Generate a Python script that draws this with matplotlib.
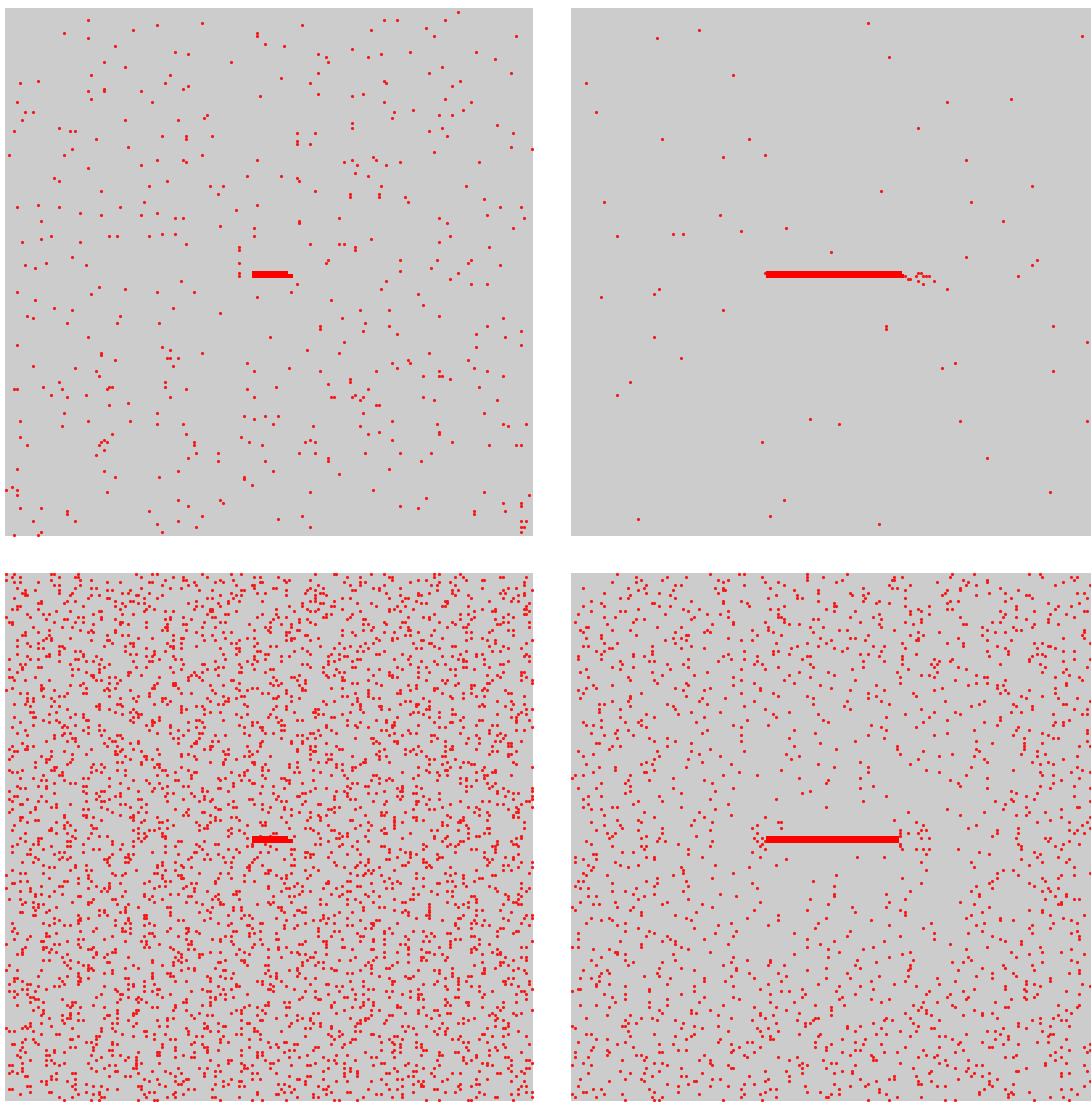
import numpy as np
import matplotlib.pyplot as plt

# every panel is a N x N lattice, row 0 at the top
N = 200
BG = '#cccccc'
DOT = '#f51a1a'

# walkers still free, top-left panel ("col,row")
tl_free = """
31,4 22,9 31,11 48,8 57,6 74,5 95,9 95,10 98,13 41,14 64,16 69,17 37,20 85,20 45,22 12,27 32,25 62,25
5,28 60,28 67,30 69,29 31,31 37,30 37,31 51,31 32,34 96,33 4,35 55,35 7,39 10,39 6,42 45,42 65,42 75,41
76,40 3,46 20,45 24,46 26,46 34,49 59,48 68,48 68,49 78,48 1,55 22,55 25,53 46,52 57,57 67,57 68,58 74,55
95,57 31,60 51,59 18,64 20,65 61,65 54,67 77,67 82,67 91,63 80,70 36,69 12,74 4,75 20,75 52,73 95,74 28,77
36,78 43,75 57,77 51,78 64,79 67,79 87,76 13,80 81,82 94,83 6,88 13,87 17,86 28,88 39,86 42,86 54,86 59,85
64,85 68,89 94,86 88,90 88,91 25,94 88,96 7,97 11,98 15,96 30,97
171,1 112,6 143,4 148,4 166,4 138,8 159,7 162,10 193,10 105,14 131,15 118,17 121,18 122,20 137,18 142,17
153,16 178,16 185,19 118,24 160,24 165,22 191,24 104,26 115,28 143,27 144,28 169,29 172,27 118,32 131,33
135,32 166,34 143,35 176,35 173,38 154,38 147,39 146,41 164,40 169,40 131,43 131,45 160,46 165,45 167,48
186,44 192,47 110,47 117,47 110,50 110,51 115,51 191,52 199,53 162,54 131,57 128,58 139,56 140,57 144,59
149,58 133,59 132,62 137,63 179,58 104,63 110,64 111,65 117,69 142,67 130,70 130,71 141,70 141,71 151,71
152,73 174,67 181,72 187,75 195,75 196,79 182,78 126,79 111,80 111,81 164,79 167,81 168,86 192,83 138,87
115,89 126,89 128,89 132,90 132,91 164,88 183,90 122,95 121,96 149,95 163,95 176,95 175,96 161,98 149,99
187,97
88,100 88,101 66,103 4,107 35,105 32,108 45,106 57,107 71,107 11,110 95,109 18,113 25,114 63,113 81,115
8,116 10,117 43,116 42,119 58,119 23,119 31,124 100,124 4,127 59,128 62,129 74,130 36,130 36,131 41,133
61,132 62,132 65,132 10,135 26,136 63,135 91,134 34,137 35,139 94,137 20,141 14,143 60,141 60,143 39,143
40,143 38,144 3,144 4,144 21,144 68,144 91,144 17,146 23,147 30,146 62,147 94,147 46,149 39,150 22,153
57,153 98,154 5,156 31,156 47,156 57,157 67,157 90,154 94,155 21,158 40,161 68,161 5,162 8,165 89,162
92,164 97,165 37,163 36,164 35,165 38,164 37,167 71,165 71,164 72,168 69,170 80,168 80,171 34,169 98,171
4,174 37,175 41,177 58,177 65,175 90,177 90,178 93,180 2,181 4,182 0,182 4,184 38,183 65,186 69,188 81,186
82,187 5,189 13,189 23,190 23,191 54,190 10,194 26,194 57,195 65,194 74,192 72,196 13,198 12,199 3,199
59,198
110,104 108,107 144,103 142,106 168,102 171,100 176,104 182,104 123,110 156,108 158,112 134,114 145,114
164,116 188,117 127,117 136,119 145,120 119,120 119,121 135,122 148,123 182,120 178,123 195,122 189,124
128,126 114,129 126,130 160,130 178,128 195,127 152,133 153,134 146,134 148,136 175,133 177,136 107,136
119,137 140,137 158,139 164,137 164,139 165,139 168,140 182,137 188,139 130,140 130,141 122,142 102,143
137,144 179,143 132,146 131,147 135,147 134,148 123,147 124,147 140,150 141,150 158,147 162,148 186,148
181,153 135,153 103,154 146,156 163,157 188,157 190,158 197,157 101,157 116,158 134,158 141,160 137,161
164,160 164,161 113,164 115,163 117,164 146,163 169,164 183,165 193,165 195,165 111,168 117,168 136,168
149,168 161,168 157,171 122,170 122,171 101,175 126,176 145,174 115,183 139,182 181,183 159,185 149,188
156,189 188,187 195,187 195,188 198,184 189,190 177,190 177,191 103,193 112,192 115,196 195,194 197,194
195,196 196,196 195,198
"""

# walkers still free, top-right panel, plus the ragged tip of the cluster
tr_free = """
32,11 48,8 112,5 120,18 193,10 61,25 166,34 5,28 142,35 9,39 131,45 34,49 67,49 73,55 57,56 149,57 117,69
174,67 12,73 56,78 151,73 163,80 17,86 38,85 42,85 81,83 64,84 98,92 176,95 174,97 169,101 149,94 33,106
31,108 11,109 57,114 119,120 119,121 182,120 31,124 41,132 140,136 145,134 22,141 17,146 182,137 195,126
147,156 90,155 101,157 72,164 195,156 157,170 181,183 80,186 25,193 75,192 116,195
73,100 125,101 126,101 127,102 128,102 130,101 131,100 132,100 133,101 134,101 135,101 131,103 133,104
137,103 142,106
"""

# walkers still free, bottom-left panel: occupied columns of each row
bl_rows = [
    "0 3 17 18 27 49 55 57 74 85 89 117 124 125 138 143 162 164 172",
    "2 5 20 26 27 51 63 67 76 94 96 103 129 134 145 146 162 170 173 187 188 197",
    "0 17 28 32 60 67 68 81 86 105 107 115 146 156 159 174 180 181",
    "3 5 12 38 43 54 55 71 79 82 96 97 106 128 134 136 153 164 168 196",
    "18 20 28 59 69 72 87 93 94 118 130 134 143 161 163 170 196",
    "4 26 32 34 51 62 66 94 101 102 115 120 139 141 149 180 190 193",
    "7 11 20 38 40 47 73 78 89 90 106 114 117 131 132 141 163 169 171 188 199",
    "6 7 20 25 44 46 54 85 95 98 113 119 120 144 156 160 169 187 189 196",
    "7 8 24 32 35 49 50 59 81 87 89 106 117 121 149 156 157 170 175 194 196",
    "3 31 38 39 52 57 76 78 86 117 127 130 145 151 152 176 188 192",
    "13 23 26 41 47 48 72 84 88 97 115 117 124 150 155 166 167 183 191 194",
    "12 13 22 44 50 52 69 80 84 112 119 120 133 138 157 159 167 198",
    "4 5 29 41 45 54 72 74 81 107 112 123 124 140 148 151 165 166 175 197",
    "2 4 12 43 53 56 71 77 78 102 114 118 127 145 147 154 180 185 196 197",
    "19 24 35 36 52 60 63 77 78 87 109 115 117 134 145 149 177 184 185 198",
    "8 14 16 33 44 48 76 83 84 97 102 121 123 131 162 172 175 190 196 197",
    "0 9 27 29 36 62 67 78 79 95 103 106 120 121 130 152 158 160 177 188 192",
    "15 22 23 36 41 60 62 70 101 111 114 129 135 136 160 172 176 185",
    "1 2 18 26 29 43 44 53 75 81 83 100 111 115 143 150 151 164 169 188 190 198",
    "2 33 43 46 61 67 68 92 104 108 117 135 137 144 170 175 186 187",
    "10 21 25 53 60 61 74 79 98 100 108 139 149 152 167 173 174 198",
    "16 28 32 41 59 61 68 94 99 110 111 127 135 138 152 153 162 184 190 192",
    "7 12 31 33 41 72 82 85 100 106 107 131 143 147 156 174 176 183",
    "6 7 16 38 44 46 63 74 78 106 113 114 127 132 151 153 161 192",
    "15 17 24 50 55 66 67 83 91 94 108 109 118 140 146 148 165 176 180",
    "4 14 17 32 38 39 63 75 79 88 106 108 115 141 146 157 158 174 182 185 199",
    "8 12 40 47 48 61 66 85 87 95 126 136 139 154 160 161 185 197",
    "4 9 20 21 37 45 48 62 63 72 94 100 102 119 130 134 162 169 170 183 188",
    "12 14 22 53 63 66 81 87 88 112 124 128 137 155 157 164 190 195",
    "20 26 28 45 56 60 88 95 96 109 114 133 135 143 174 184 187",
    "4 16 20 29 47 49 56 82 87 98 99 115 123 126 140 141 150 172 178 180 197",
    "8 15 16 29 34 53 55 63 94 104 107 122 128 129 153 165 169 178 196 198",
    "1 9 12 26 27 36 58 64 66 83 94 98 126 133 134 147 152 171 173 181",
    "20 30 33 48 54 55 79 91 95 104 122 124 131 157 162 173 174 190 198",
    "5 7 24 35 39 67 74 75 88 93 112 114 122 153 163 166 181 187 188",
    "6 12 13 37 49 53 62 80 82 89 115 120 131 132 148 156 159 173 174 183",
    "1 6 25 27 35 66 76 79 94 100 101 125 137 141 150 168 170 177",
    "4 30 35 46 47 63 71 74 88 89 98 120 126 128 145 156 160 188 195 196",
    "25 32 33 46 51 70 72 80 111 121 124 139 145 146 170 182 186 195",
    "1 2 11 33 39 41 58 69 73 101 108 109 122 127 146 148 156 187 197",
    "3 7 16 34 36 43 69 74 85 86 102 110 113 127 128 137 159 165 167 184 195 199",
    "29 39 42 57 63 64 88 100 104 113 131 133 140 166 171 182 183 199",
    "13 24 28 56 63 64 77 82 101 103 111 142 152 155 170 176 177",
    "2 13 14 30 38 41 55 56 65 87 93 95 112 123 127 155 162 163 176 181",
    "0 13 18 37 39 47 78 88 91 106 112 113 137 149 153 162 180 182 189",
    "5 8 23 29 30 54 66 70 79 97 99 106 132 137 148 149 165 173 176 190 191",
    "14 20 22 39 50 54 82 89 90 103 108 127 129 137 168 178 181 196",
    "8 10 17 43 48 59 60 76 84 87 101 102 111 133 139 141 158 169 173",
    "8 10 18 49 59 62 77 83 84 108 120 124 133 151 153 160 186 191",
    "3 7 35 42 43 56 61 80 82 90 121 131 134 149 155 156 180 192 196",
    "9 17 20 34 35 44 66 72 74 91 102 106 134 141 142 155 160 179 181 189",
    "23 35 39 48 66 68 75 101 106 117 118 134 142 145 159 160 169 191 197 199",
    "9 10 19 41 47 49 66 77 81 109 116 117 130 135 154 156 164 195",
    "16 26 29 44 50 51 75 87 91 100 118 120 127 153 158 169 170 186 194 197",
    "3 10 11 24 29 48 50 58 89 99 102 117 123 124 148 160 164 173 191 193",
    "14 19 30 31 47 55 58 72 73 82 104 110 112 129 140 144 172 179 180 193 198",
    "5 16 20 48 55 56 69 74 93 95 103 134 144 147 162 168 169 193",
    "10 22 26 35 53 55 62 88 93 104 105 121 129 132 146 147 156 178 184 186",
    "2 21 23 31 62 72 75 90 96 97 121 133 137 146 164 166 173 199",
    "7 29 35 37 54 65 69 97 104 105 118 123 142 144 152 183 193 196",
    "4 22 24 31 57 62 73 74 90 98 101 115 116 125 147 153 155 172 183 187",
    "8 18 21 36 42 43 67 79 83 92 110 112 119 145 150 161 162 178 186 189",
    "18 25 26 39 44 63 65 73 104 114 117 132 138 139 163 175 179 188",
    "15 23 26 40 41 50 72 78 80 97 108 112 140 147 148 161 166 185 187 195",
    "6 37 47 50 65 71 72 96 108 112 121 139 141 148 174 179 190 191",
    "2 8 10 27 38 42 70 77 78 91 96 115 117 125 156 166 169 184 190 191",
    "1 7 8 32 44 48 57 75 77 84 110 115 126 127 143 151 154 168 169 178",
    "3 4 17 22 41 43 51 82 92 95 110 116 117 141 153 157 166 184 186 193",
    "25 30 41 42 58 66 69 83 84 93 115 121 123 140 151 155 183 190 191",
    "2 13 17 45 52 53 66 71 90 92 100 131 141 144 159 165 166 190",
    "1 15 16 25 47 53 55 72 83 87 115 122 123 136 141 160 162 170",
    "11 15 24 42 44 51 77 82 93 94 110 118 121 135 136 145 167 173 175 192",
    "23 33 36 51 57 58 82 94 98 107 125 127 134 160 165 176 177 193",
    "11 18 19 32 37 56 58 66 97 107 110 125 131 132 156 168 172 181 199",
    "1 6 17 18 34 42 45 59 60 69 91 97 99 116 127 131 159 166 167 180 185",
    "2 4 21 32 36 64 71 72 85 90 109 111 119 150 160 163 178 184 185",
    "14 20 21 45 57 61 70 88 90 97 123 128 139 140 156 164 167 181 182 191",
    "5 10 29 31 39 70 80 83 98 104 105 129 141 145 154 172 174 181",
    "13 15 22 48 53 64 65 81 89 92 106 107 116 138 144 146 163 174 178",
    "18 24 26 43 54 58 86 93 94 107 112 131 133 141 172 182 185",
    "4 12 15 29 30 39 61 67 69 86 97 101 129 136 137 150 155 174 176 184",
    "5 7 15 46 56 59 74 80 81 105 117 121 130 148 150 157 183 188 199",
    "1 29 36 37 50 55 74 76 84 115 125 128 143 149 150 174 186 190 199",
    "18 30 34 43 61 63 70 96 101 112 113 129 137 140 154 155 164 186 192 194",
    "3 4 13 35 41 43 60 71 75 103 110 111 124 129 148 150 158 189 199",
    "1 8 34 39 50 51 67 75 78 92 93 102 124 130 132 149 160 164 192 199",
    "2 12 15 30 36 37 61 73 77 86 104 106 113 139 144 155 156 172 180 183 197 198",
    "5 6 19 24 43 45 53 84 94 97 112 118 119 143 155 159 168 186 188 195",
    "11 17 19 36 47 51 79 86 87 100 105 124 126 134 165 175 178 193 199",
    "2 11 29 31 38 64 69 80 81 97 105 108 122 123 132 154 160 162 179 190 194",
    "1 9 40 50 53 68 74 75 99 111 115 124 142 144 151 177 182 193 194",
    "22 29 30 43 48 67 69 77 108 118 121 136 142 143 167 179 183 192",
    "5 6 22 30 33 47 48 57 79 85 87 104 115 119 147 154 155 168 173 192 194",
    "5 11 12 36 48 52 61 79 81 88 114 119 130 131 147 155 158 172 173 182",
    "8 19 23 51 58 59 72 77 96 98 106 137 147 150 165 171 172 196",
    "3 22 24 32 63 73 76 91 97 98 122 134 138 147 165 167 174",
    "17 22 33 34 50 58 61 75 76 85 107 113 115 132 143 147 175 182 183 196",
    "2 16 17 26 48 54 56 73 84 88 116 123 124 137 142 161 163 171",
    "7 19 23 32 50 52 59 85 90 101 102 118 126 129 143 144 153 175 181 183",
    "25 35 38 53 59 60 84 96 100 109 127 129 136 162 167 178 179 195",
    "5 12 13 26 31 50 52 60 91 119 125 126 150 162 166 175 193 195",
    "7 12 23 24 40 48 51 65 66 75 122 133 137 165 172 173 186 191",
    "4 10 12 29 40 44 72 79 80 93 98 117 119 127 158 168 171 186 192 193",
    "2 17 23 24 48 60 64 73 91 93 100 126 131 142 143 159 167 170 184 185 194",
    "9 14 33 35 43 74 84 87 102 108 109 133 145 149 158 176 178 185",
    "2 20 22 29 55 60 71 72 88 96 99 113 114 123 145 151 153 170 181 185",
    "8 9 18 40 46 48 65 76 80 108 115 116 129 134 153 155 163 194",
    "11 21 24 39 45 46 70 82 86 95 113 115 122 148 153 164 165 181 189 192",
    "12 20 23 37 38 47 69 75 77 94 105 109 137 144 145 158 163 182 184 192",
    "6 10 38 45 46 59 64 83 85 93 124 134 137 152 158 159 183 195 199",
    "14 26 30 39 57 59 66 92 97 108 109 125 133 136 150 151 160 182 188 190",
    "16 18 26 57 67 70 85 91 92 116 128 132 141 159 161 168 194 199",
    "2 24 30 32 49 60 64 92 99 100 113 118 137 139 147 178 188 191",
    "5 7 14 40 45 56 57 73 81 84 98 99 108 130 136 138 155 166 170 198",
    "0 31 41 44 59 65 66 90 102 106 115 133 135 142 168 173 184 185",
    "16 27 31 59 66 67 80 85 104 106 114 145 155 158 173 179 180",
    "5 8 22 23 32 54 60 62 79 90 94 122 129 130 143 148 167 169 177",
    "2 3 27 39 43 52 70 72 79 105 110 121 122 138 146 149 163 164 173 195",
    "13 20 21 34 39 58 60 68 99 109 112 127 133 134 158 170 174 183",
    "0 9 31 37 39 56 67 71 99 106 107 120 125 144 146 154 185 195 198",
    "5 9 18 36 38 45 71 76 87 88 104 112 115 129 130 139 161 167 169 186 197",
    "11 13 21 52 62 65 80 86 87 111 123 127 136 154 156 163 189 194",
    "11 16 27 28 44 52 55 69 70 79 101 107 109 126 137 141 169 176 177 190 195",
    "1 5 33 40 41 54 59 78 80 88 119 129 132 147 153 154 178 190 194",
    "7 10 25 31 32 56 68 72 81 99 101 108 134 139 150 151 167 175 178 192 193",
    "6 12 14 31 42 46 74 81 82 95 100 119 121 129 160 170 173 188 194 195",
    "10 12 19 45 50 61 62 78 86 89 103 104 113 135 141 143 160 171 175",
    "11 16 35 37 45 76 86 89 104 110 111 135 147 151 160 178 180 187",
    "5 6 15 37 43 45 62 73 77 105 112 113 126 131 150 152 160 191",
    "10 11 27 35 38 52 53 62 84 90 92 109 120 124 152 159 160 173 178 197 199",
    "18 28 31 46 52 53 77 89 93 102 120 122 129 155 160 171 172 188 196 199",
    "20 27 28 41 46 65 67 75 106 116 119 134 140 141 165 177 181 190",
    "2 14 18 27 45 47 54 80 85 96 97 113 121 124 138 139 148 170 176 178 195",
    "16 22 24 41 52 56 84 91 92 105 110 129 131 139 170 180 183 198",
    "3 34 44 47 62 68 69 93 105 109 118 136 138 145 171 176 187 188",
    "2 28 33 44 45 61 69 72 86 87 96 118 124 126 143 154 158 186 193 194",
    "4 15 19 47 54 55 68 73 92 94 102 133 143 146 161 167 168 192",
    "9 15 16 40 52 56 65 83 85 92 118 123 134 135 151 159 162 176 177 186",
    "3 8 27 29 37 68 78 81 96 102 103 127 139 143 152 170 172 179",
    "13 14 23 45 51 53 70 81 85 113 120 121 134 139 158 160 168 199",
    "0 18 20 27 53 58 69 70 86 94 97 111 112 121 143 149 151 168 179 183",
    "7 14 15 28 33 52 54 62 93 103 106 121 127 128 152 164 168 177 195 197",
    "6 14 17 31 32 41 63 69 71 88 99 103 131 138 139 152 157 176 178 186",
    "6 16 19 34 40 41 65 77 81 90 108 110 117 143 148 159 160 176 184 187",
    "4 6 23 34 38 66 73 74 87 92 111 113 121 152 162 165 180 186 187",
    "21 33 37 46 64 66 73 99 104 115 116 132 140 143 157 158 167 189 195 197",
    "14 16 24 55 65 68 83 89 90 114 126 130 139 157 159 166 192 197",
    "22 27 38 39 55 63 66 80 81 90 112 118 120 137 148 152 180 187 188",
    "1 23 29 31 48 59 63 91 98 99 112 117 136 138 146 177 187 190",
    "24 31 32 45 50 69 71 79 110 120 123 138 144 145 169 181 185 194",
    "0 4 13 31 33 40 66 71 82 83 99 107 110 124 125 134 156 162 164 181 192 196",
    "27 37 40 55 61 62 86 98 102 111 129 131 138 164 169 180 181 197",
    "12 23 27 55 62 63 76 81 100 102 110 141 151 154 169 175 176",
    "3 4 20 28 31 45 46 55 77 83 85 102 113 117 145 152 153 166 171 190 192",
    "3 6 21 27 28 52 64 68 77 95 97 104 130 135 146 147 163 171 174 188 189 198",
    "1 8 9 22 27 46 48 56 87 97 100 115 121 122 146 158 162 171 189 191 198",
    "12 18 20 37 48 52 80 87 88 101 106 125 127 135 166 176 179 194",
    "6 8 15 41 46 57 58 74 82 85 99 100 109 131 137 139 156 167 171 199",
    "1 3 11 42 52 55 70 76 77 101 113 117 126 144 146 153 179 184 195 196",
    "4 8 36 43 44 57 62 81 83 91 122 132 135 150 156 157 181 193 197",
    "3 9 10 34 46 50 59 77 79 86 112 117 128 129 145 153 156 170 171 180",
    "11 12 21 43 49 51 68 79 83 111 118 119 132 137 156 158 166 197",
    "9 14 25 26 42 50 53 67 68 77 99 105 107 124 135 139 167 174 175 188 193",
    "4 23 25 33 64 74 77 92 98 99 123 135 139 148 166 168 175",
    "12 24 28 37 55 57 64 90 95 106 107 123 131 134 148 149 158 180 186 188",
    "10 14 42 49 50 63 68 87 89 97 128 138 141 156 162 163 187 199",
    "14 24 27 42 48 49 73 85 89 98 116 118 125 151 156 167 168 184 192 195",
    "13 21 24 38 39 48 70 76 78 95 106 110 138 145 146 159 164 183 185 193",
    "16 23 24 37 42 61 63 71 102 112 115 130 136 137 161 173 177 186",
    "21 27 29 46 57 61 89 96 97 110 115 134 136 144 175 185 188",
    "9 13 22 40 42 49 75 80 91 92 108 116 119 133 134 143 165 171 173 190",
    "7 9 17 48 58 61 76 82 83 107 119 123 132 150 152 159 185 190",
    "0 6 8 25 36 40 68 75 76 89 94 113 115 123 154 164 167 182 188 189",
    "1 3 10 36 41 52 53 69 77 80 94 95 104 126 132 134 151 162 166 194",
    "13 19 20 44 56 60 69 87 89 96 122 127 138 139 155 163 166 180 181 190",
    "27 34 35 48 53 72 74 82 113 123 126 141 147 148 172 184 188 197",
    "7 10 24 25 34 56 62 64 81 92 96 124 131 132 145 150 169 171 179",
    "6 11 30 32 40 71 81 84 99 105 106 130 142 146 155 173 175 182",
    "2 3 12 34 40 42 59 70 74 102 109 110 123 128 147 149 157 188 198",
    "6 24 26 33 59 64 75 76 92 100 103 117 118 127 149 155 157 174 185 189",
    "5 15 18 33 39 40 64 76 80 89 107 109 116 142 147 158 159 175 183 186",
    "7 18 22 50 57 58 71 76 95 97 105 136 146 149 164 170 171 195",
    "4 15 16 32 40 43 57 58 67 89 95 97 114 125 129 157 164 165 178 183",
    "5 36 46 49 64 70 71 95 107 111 120 138 140 147 173 178 189 190",
    "9 15 17 34 45 49 77 84 85 98 103 122 124 132 163 173 176 191 197 198",
    "6 18 22 31 49 51 58 84 89 100 101 117 125 128 142 143 152 174 180 182 199",
    "1 2 15 20 39 41 49 80 90 93 108 114 115 139 151 155 164 182 184 191",
    "6 32 37 48 49 65 73 76 90 91 100 122 128 130 147 158 162 190 197 198",
    "2 6 34 41 42 55 60 79 81 89 120 130 133 148 154 155 179 191 195",
    "1 4 19 25 26 50 62 66 75 93 95 102 128 133 144 145 161 169 172 186 187 196",
    "7 8 17 39 45 47 64 75 79 107 114 115 128 133 152 154 162 193",
    "17 19 26 52 57 68 69 85 93 96 110 111 120 142 148 150 167 178 182",
    "13 15 23 54 64 67 82 88 89 113 125 129 138 156 158 165 191 196",
    "15 26 30 58 65 66 79 84 103 105 113 144 154 157 172 178 179",
    "8 9 25 33 36 50 51 60 82 88 90 107 118 122 150 157 158 171 176 195 197",
    "1 2 26 38 42 51 69 71 78 104 109 120 121 137 145 148 162 163 172 194",
    "9 16 17 30 35 54 56 64 95 105 108 123 129 130 154 166 170 179 197 199",
    "5 27 33 35 52 63 67 95 102 103 116 121 140 142 150 181 191 194",
    "20 25 36 37 53 61 64 78 79 88 110 116 118 135 146 150 178 185 186 199",
    "22 32 35 50 56 57 81 93 97 106 124 126 133 159 164 175 176 192",
]

# walkers still free, bottom-right panel: occupied columns of each row
br_rows = [
    "17 52 63 65 89 104 144 152 173 177",
    "24 36 43 72 89 95 122 125 143 178 189 191",
    "26 34 55 59 89 102 121 122 148 157 190",
    "15 24 57 73 78 100 138 150 157 186",
    "28 39 41 65 80 120 128 149 153 183 196",
    "4 21 27 54 57 75 110 121 123 147 162",
    "25 38 57 58 84 93 126 142 147 169",
    "12 28 33 55 93 105 112 141 158 164 191 194",
    "22 37 77 85 106 110 140 153 172 173 199",
    "18 21 39 74 85 87 111 126 166 174 195 199",
    "7 45 57 64 93 110 116 143 146 164 199",
    "11 30 31 57 66 99 115 120 142 180 192 199",
    "4 12 33 37 67 80 99 100 126 135 168 184 189",
    "25 42 48 75 78 96 131 142 144 168 183",
    "7 18 20 44 59 99 107 128 132 162 175 194 195",
    "2 35 51 56 78 116 128 135 164 181 187",
    "12 16 46 59 78 79 105 114 147 163 168 190",
    "24 27 45 80 91 93 117 132 172 180",
    "1 23 61 73 80 109 126 132 159 162 180",
    "13 53 61 82 86 116 129 148 149 175 184",
    "5 6 32 41 74 90 95 117 155 167 174",
    "3 15 22 51 68 74 101 104 122 157 168 170 194",
    "4 39 50 52 76 91 131 139 160 164 194",
    "11 24 43 44 70 79 112 128 133 155 193",
    "5 11 38 41 59 94 105 107 131 146 186 194",
    "35 43 64 68 98 111 130 131 157 166 199",
    "12 17 39 77 89 96 125 142 148 175 178 196",
    "4 6 30 45 85 93 114 118 148 161 180 181",
    "14 15 41 50 83 99 104 126 164 176 183",
    "9 12 30 65 76 78 102 117 157 165 186 190",
    "11 23 30 59 76 82 109 112 130 165 176 178",
    "2 23 27 57 70 89 90 116 125 158 174 179",
    "2 11 44 60 65 87 125 137 144 173 190 196",
    "18 29 31 55 70 110 118 139 143 173 186",
    "19 36 42 69 72 90 125 136 138 162 177",
    "15 23 44 78 91 110 137 146 179 195",
    "5 18 37 64 73 106 127 149 187 199",
    "3 30 51 86 97 123 138 178 186",
    "34 46 82 99 132 135 153 188 199",
    "6 21 61 90 124 137 156 157 183 192",
    "22 31 64 80 107 145 164 193",
    "32 43 69 84 124 153 157 187",
    "8 15 44 61 94 115 150 161 163 187",
    "5 9 39 52 71 98 140 161 183",
    "2 42 50 71 105 118 137 164 173",
    "4 26 64 76 112 129 162 165 183",
    "22 43 78 89 115 130 170 178 199",
    "3 22 49 58 91 112 172 184 191",
    "15 21 48 69 104 117 141 156 196",
    "10 12 36 51 91 120 154 167 186 187",
    "22 38 65 103 151 168 174",
    "10 18 39 73 105 132 174 190 195",
    "10 45 56 82 137 145 166 170",
    "28 40 76 93 126 147 182 193 195",
    "18 31 50 77 119 135 162",
    "11 26 66 95 142 162 188 197",
    "4 20 25 47 97 133 156 183 186",
    "5 8 26 61 74 113 161 182 186",
    "11 28 64 117 130 169",
    "17 21 51 84 119 152 168 173 195",
    "7 16 49 92 142 178 195",
    "12 23 64 112 137 167 180 199",
    "17 29 36 82 118 171 182 184",
    "31 39 64 107 153 195",
    "9 10 45 94 159 171 178",
    "15 18 36 84 123 171 192 196",
    "14 52 100 123 153 171",
    "2 32 45 65 133 154 176",
    "8 48 81 124 144 170 179",
    "4 33 56 86 139 152 176 191",
    "31 44 83 131 156 186 199",
    "28 49 109 157 174 180",
    "5 26 30 60 93 128 177 182",
    "10 16 43 99 112 151 191 199",
    "16 31 79 134 167 193",
    "8 27 28 63 112 139 177 189 196",
    "1 4 22 57 70 149 178 182",
    "0 38 86 109 157 192",
    "21 29 50 97 143 185",
    "11 20 53 96 146 182 199",
    "22 114 147 177 190",
    "2 9 38 61 109 157 181 196",
    "22 54 90 166",
    "20 41 87 168 176 197",
    "6 11 33 119 172 190",
    "4 52 77 166 175",
    "25 34 110 160 167 196",
    "6 23 59 164",
    "4 15 17 41 96 172 191 192",
    "7 11 54 142 163 185",
    "27 48 127 156 173 179",
    "12 60 147 168 172",
    "31 50 185 196 198",
    "17 25 46 181 197",
    "7 26 53 176 188 195",
    "12 18 45 153 193",
    "19 34 150 169 196",
    "9 25 52 161 188 191",
    "13 16 34 161 169 190 194",
    "15 28 47 159 197",
    "14 26 33 168 179 181",
    "5 32 35 53 180 188",
    "7 40 169 186 192",
    "15 26 28 52 170 183",
    "27 44 146 170 185",
    "19 23 154 175 197",
    "8 9 44 158 177",
    "1 28 31 49 176 184",
    "4 9 31 81 170 188",
    "1 16 132 151 178 187",
    "6 18 25 54 77 173 197",
    "8 21 41 67 152 190",
    "7 42 134 163 167 197",
    "4 42 61 161 196",
    "5 13 38 100 169 185 190",
    "32 53 125 161 178 184",
    "2 4 28 43 91 159 179",
    "15 32 68 132 158 173",
    "1 31 44 99 153 175",
    "3 6 24 70 159 180 184",
    "15 20 42 128 151 178 181 199",
    "23 31 56 99 119 154 187",
    "6 9 27 62 99 154 183 187",
    "25 44 90 126 179 190 192",
    "3 16 36 71 120 147 185 197",
    "8 10 34 49 97 152 184 185",
    "0 17 23 53 106 119 158 198",
    "1 22 69 89 124 173 178",
    "26 47 107 126 155 178",
    "26 39 78 126 151 181 194",
    "7 14 43 66 96 149 162 186",
    "11 15 45 78 113 162 167 189",
    "5 20 60 93 136 156 182 191",
    "17 55 74 120 153 174",
    "25 46 92 133 173 181",
    "20 29 62 105 155 191",
    "2 31 54 84 137 150 174 189",
    "28 36 61 104 124 159 192",
    "2 37 50 89 137 162 192",
    "18 34 39 99 118 164 170 197",
    "26 39 59 94 143 170",
    "0 2 26 41 89 114 157 177",
    "8 14 44 97 110 149 189 197",
    "16 17 52 101 128 166 178 185",
    "17 20 38 84 125 173 194 198",
    "11 61 97 120 150 168",
    "7 20 39 66 75 108 129 151 189",
    "23 34 60 75 115 144 148 178 191",
    "9 21 57 74 80 107 128 163 174",
    "33 41 62 96 109 128 155 164 197",
    "4 13 46 62 89 127 146 175 192 198",
    "11 14 32 67 78 104 159 167 188 192",
    "10 27 33 60 81 116 127 153 168",
    "3 7 37 50 69 96 105 138 159 181",
    "10 50 58 79 113 126 145 172 181",
    "9 14 36 74 93 122 139 172 175 193",
    "9 20 46 61 101 109 130 164 177 196 197",
    "2 3 29 71 87 114 152 164 171",
    "0 29 46 79 82 100 135 148 172 187",
    "12 20 41 75 88 107 134 143 176 192 197",
    "15 50 61 87 102 142 150 171 175",
    "20 36 63 101 113 120 149 166 172 199",
    "16 29 48 75 84 117 133 138 160 198",
    "3 9 36 57 92 103 129 144 184 192",
    "14 29 69 77 98 132 145 164 165 191",
    "33 45 52 81 98 131 134 152 187 198",
    "34 45 47 71 86 126 134 155 159 189",
    "13 22 55 71 76 98 136 148 155 184",
    "5 26 30 60 73 92 93 119 128 161 177 182",
    "20 32 39 68 85 91 118 121 139 174 185 187",
    "21 24 42 77 88 90 114 129 169 177 198",
    "0 19 20 46 55 88 104 109 131 169 181 188",
    "1 41 49 70 74 104 117 136 137 163 172",
    "21 59 71 78 107 124 130 157 160 178",
    "5 7 31 46 86 94 115 119 149 162 181 182",
    "22 39 45 72 75 93 128 139 141 165 180",
    "9 13 43 56 75 76 102 111 144 160 165 187",
    "2 20 55 66 68 92 107 147 155 176 180",
    "17 33 38 60 98 110 117 146 163 169 196 199",
    "8 23 63 71 92 96 126 139 158 159 185 194",
    "7 13 40 43 61 96 107 109 133 148 188 196",
    "1 14 33 34 60 69 102 118 123 145 183 195",
    "13 24 26 50 65 105 113 134 138 168 181",
    "1 6 28 66 78 85 114 131 137 164 167 185",
    "19 27 48 52 82 95 114 115 141 150 183 199",
    "4 31 34 52 87 98 100 124 139 179 187",
    "0 7 36 53 59 86 89 107 142 153 155 179 194",
    "28 41 60 61 87 96 129 145 150 172",
    "18 33 73 81 102 106 136 149 168 169 195",
    "6 22 27 49 87 99 106 135 152 158 185 188",
    "30 41 43 67 82 122 130 151 155 185 198",
    "3 20 26 53 56 74 109 120 122 146 161",
    "14 27 46 47 73 82 115 131 136 158 196",
    "36 44 65 69 99 112 131 132 158 167",
    "2 40 52 59 88 105 111 138 141 159 194",
    "8 11 29 64 75 77 101 116 156 164 185 189",
    "4 5 31 40 73 89 94 116 154 166 173",
    "0 12 19 48 65 71 98 101 119 154 165 167 191",
    "1 9 30 34 64 77 96 97 123 132 165 181 186",
    "20 31 33 57 72 112 120 141 145 175 188",
]

# walkers stuck round both ends of the bottom-right cluster
br_tip = """
73,92 78,94 79,94 79,96 70,95 68,96 70,98 72,100 73,101 72,102 69,100 70,101 71,103 73,104 68,105 71,107
124,97 124,98 124,99 124,102 124,103 125,104 127,98 130,94 131,98 132,97 133,95 134,97 132,100 135,100
130,104 133,104 134,106 135,104 108,107 118,107 122,93
"""

# the grown cluster in each panel: (row, first col, last col)
tl_line = [(100, 94, 106), (101, 94, 108)]
tr_line = [(100, 74, 124), (101, 74, 125)]
bl_line = [(100, 94, 106), (101, 94, 108)]
br_line = [(100, 74, 123), (101, 74, 123)]


def from_pairs(text):
    pts = np.array([p.split(',') for p in text.split()], dtype=int)
    return pts[:, 0], pts[:, 1]


def from_rows(rows, extra=""):
    cols, rr = [], []
    for r, line in enumerate(rows):
        for c in line.split():
            cols.append(int(c))
            rr.append(r)
    if extra:
        ex, ey = from_pairs(extra)
        cols += list(ex)
        rr += list(ey)
    return np.array(cols), np.array(rr)


def line_cells(segs):
    cols, rr = [], []
    for r, c0, c1 in segs:
        for c in range(c0, c1 + 1):
            cols.append(c)
            rr.append(r)
    return np.array(cols), np.array(rr)


W, H = 1091, 1102
SIDE = 528
fig = plt.figure(figsize=(W / 100, H / 100), dpi=100)

panels = [
    ((5, 8), from_pairs(tl_free), line_cells(tl_line)),
    ((571, 8), from_pairs(tr_free), line_cells(tr_line)),
    ((5, 573), from_rows(bl_rows), line_cells(bl_line)),
    ((571, 573), from_rows(br_rows, br_tip), line_cells(br_line)),
]

cell = SIDE / N * 72 / 100  # lattice spacing in points
for (x0, y0), free, clus in panels:
    ax = fig.add_axes([x0 / W, 1 - (y0 + SIDE) / H, SIDE / W, SIDE / H])
    ax.set_facecolor(BG)
    ax.scatter(free[0], free[1], s=(cell * 1.2) ** 2, marker='o', c=DOT, linewidths=0)
    ax.scatter(clus[0], clus[1], s=(cell * 1.25) ** 2, marker='s', c='#ff0000', linewidths=0)
    ax.set_xlim(-0.5, N - 0.5)
    ax.set_ylim(N - 0.5, -0.5)
    ax.set_xticks([])
    ax.set_yticks([])
    for sp in ax.spines.values():
        sp.set_visible(False)

fig.savefig('out.png', dpi=100)
